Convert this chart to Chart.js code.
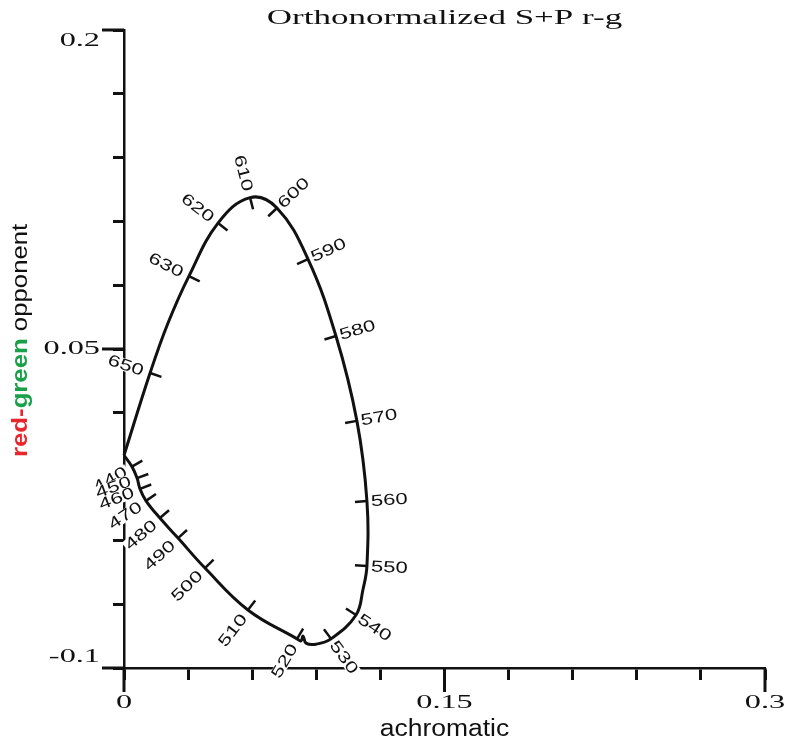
<!DOCTYPE html>
<html><head><meta charset="utf-8">
<script src="https://cdn.jsdelivr.net/npm/chart.js@4.4.0/dist/chart.umd.min.js"></script>
<style>html,body{margin:0;padding:0;background:#fff;}#wrap{width:786px;height:745px;}</style>
</head><body><div id="wrap"><canvas id="c" width="786" height="745"></canvas></div>
<script>
// ---------- data ----------
const chartTitle = 'Orthonormalized S+P r-g';
const xAxisTitle = 'achromatic';
const yTitleParts = [
  {text: 'red-', color: '#e8262d', bold: true},
  {text: 'green', color: '#19a049', bold: true},
  {text: ' opponent', color: '#111111', bold: false}
];
const xRange = [0, 0.3];
const yRange = [-0.1, 0.2];
const minorStep = 0.03;
const xMajorTicks = [0, 0.15, 0.3];
const xTickLabels = ['0', '0.15', '0.3'];
const yMajorTicks = [-0.1, 0.05, 0.2];
const yTickLabels = ['-0.1', '0.05', '0.2'];

// spectral locus (wavelength labels; null = shape point only)
const locusWavelength = [null, 440, 450, 460, 470, 480, 490, 500, 510, 520, null, null, null, null, 530, 540, null, 550, 560, 570, 580, 590, 600, 610, 620, 630, null, 650, null];
const locusX = [0, 0.0037, 0.0061, 0.0075, 0.0103, 0.0168, 0.0253, 0.0379, 0.0580, 0.0810, 0.0828, 0.0838, 0.0852, 0.0899, 0.0969, 0.1086, 0.1118, 0.1137, 0.1137, 0.1090, 0.0992, 0.0861, 0.0716, 0.0590, 0.0440, 0.0304, 0.0206, 0.0122, 0];
const locusY = [0, -0.0053, -0.0107, -0.0158, -0.0214, -0.0295, -0.0389, -0.0530, -0.0727, -0.0863, -0.0873, -0.0850, -0.0883, -0.0888, -0.0863, -0.0751, -0.0633, -0.0520, -0.0215, 0.0162, 0.0561, 0.0923, 0.1163, 0.1212, 0.1092, 0.0843, 0.0622, 0.0387, 0];

// ---------- helpers ----------
const INK = '#111111';
function withStretch(ctx, s, fn) {
  const orig = CanvasRenderingContext2D.prototype.fillText;
  ctx.fillText = function (t, x, y) {
    this.save(); this.translate(x, y); this.scale(s, 1); orig.call(this, t, 0, 0); this.restore();
  };
  try { fn(); } finally { delete ctx.fillText; }
}
function near(a, b) { return Math.abs(a - b) < 1e-9; }

const overlay = {
  id: 'overlay',
  beforeDraw(chart) {
    const xs = chart.scales.x, ys = chart.scales.y;
    [[xs, 1.7], [ys, 1.7]].forEach(([sc, s]) => {
      if (sc._patched) return;
      sc._patched = true;
      sc.drawLabels = function (area) {
        withStretch(this.ctx, s, () => Object.getPrototypeOf(this).drawLabels.call(this, area));
      };
    });
    if (!xs._patchedTitle) {
      xs._patchedTitle = true;
      xs.drawTitle = function () {
        withStretch(this.ctx, 1.15, () => Object.getPrototypeOf(this).drawTitle.call(this));
      };
    }
  },
  afterDatasetsDraw(chart) {
    const ctx = chart.ctx, xs = chart.scales.x, ys = chart.scales.y, ca = chart.chartArea;
    ctx.save();
    ctx.strokeStyle = INK; ctx.lineCap = 'butt';
    // longer major ticks
    ctx.lineWidth = 3;
    xMajorTicks.forEach(v => {
      const px = xs.getPixelForValue(v);
      ctx.beginPath(); ctx.moveTo(px, ca.bottom); ctx.lineTo(px, ca.bottom + 24); ctx.stroke();
    });
    yMajorTicks.forEach(v => {
      const py = ys.getPixelForValue(v);
      ctx.beginPath(); ctx.moveTo(ca.left, py); ctx.lineTo(ca.left - 22, py); ctx.stroke();
    });
    // wavelength ticks on the locus
    const P = locusX.map((x, i) => ({x: xs.getPixelForValue(x), y: ys.getPixelForValue(locusY[i])}));
    const marks = [];
    locusWavelength.forEach((w, i) => {
      if (w == null) return;
      const a = P[Math.max(0, i - 1)], b = P[Math.min(P.length - 1, i + 1)];
      let tx = b.x - a.x, ty = b.y - a.y;
      const L = Math.hypot(tx, ty) || 1; tx /= L; ty /= L;
      marks.push({w, p: P[i], nx: -ty, ny: tx});
    });
    ctx.lineWidth = 2.5;
    marks.forEach(m => {
      ctx.beginPath(); ctx.moveTo(m.p.x, m.p.y); ctx.lineTo(m.p.x - m.nx * 12, m.p.y - m.ny * 12); ctx.stroke();
    });
    // labels with white background
    const LS = 1.38;
    ctx.font = '16px "Liberation Sans", Arial, sans-serif';
    ctx.textAlign = 'center'; ctx.textBaseline = 'middle';
    marks.forEach(m => {
      const txt = String(m.w);
      const w = ctx.measureText(txt).width * LS;
      const d = (m.nx < 0 ? 7 : 4) + w / 2;
      const cx = m.p.x + m.nx * d, cy = m.p.y + m.ny * d;
      const ang = m.nx >= 0 ? Math.atan2(m.ny, m.nx) : Math.atan2(-m.ny, -m.nx);
      ctx.save();
      ctx.translate(cx, cy); ctx.rotate(ang);
      ctx.fillStyle = '#ffffff';
      ctx.fillRect(-w / 2 - 1.5, -6, w + 3, 12.5);
      ctx.scale(LS, 1);
      ctx.fillStyle = INK;
      ctx.fillText(txt, 0, 1);
      ctx.restore();
    });
    ctx.restore();
  },
  afterDraw(chart) {
    const ctx = chart.ctx, ca = chart.chartArea;
    ctx.save();
    // chart title
    ctx.font = '20px "Liberation Serif", "Times New Roman", serif';
    ctx.fillStyle = INK; ctx.textAlign = 'center'; ctx.textBaseline = 'alphabetic';
    ctx.save(); ctx.translate((ca.left + ca.right) / 2, 24); ctx.scale(1.75, 1); ctx.fillText(chartTitle, 0, 0); ctx.restore();
    // y-axis title (multi-coloured)
    ctx.save();
    ctx.translate(27, 457); ctx.rotate(-Math.PI / 2);
    ctx.textAlign = 'left'; ctx.textBaseline = 'alphabetic';
    const S = 1.17;
    let x = 0;
    yTitleParts.forEach(part => {
      ctx.font = (part.bold ? 'bold ' : '') + '22px "Liberation Sans", Arial, sans-serif';
      ctx.fillStyle = part.color;
      ctx.save(); ctx.translate(x, 0); ctx.scale(S, 1); ctx.fillText(part.text, 0, 0); ctx.restore();
      x += ctx.measureText(part.text).width * S;
    });
    ctx.restore();
    ctx.restore();
  }
};

const ctx = document.getElementById('c').getContext('2d');
new Chart(ctx, {
  type: 'scatter',
  data: {
    datasets: [{
      data: locusX.map((x, i) => ({x, y: locusY[i]})),
      showLine: true,
      borderColor: INK,
      borderWidth: 3,
      pointRadius: 0,
      tension: 0.4,
      fill: false,
      clip: false
    }]
  },
  options: {
    responsive: false,
    animation: false,
    devicePixelRatio: 1,
    layout: {padding: {left: 0, right: 21, top: 30, bottom: 0}},
    plugins: {legend: {display: false}, tooltip: {enabled: false}, title: {display: false}},
    scales: {
      x: {
        type: 'linear', position: 'bottom', min: xRange[0], max: xRange[1],
        afterFit(scale) { scale.height = 77; scale.paddingLeft = 0; scale.paddingRight = 0; },
        grid: {drawOnChartArea: false, drawTicks: true, tickLength: 12, tickWidth: 3, tickColor: INK},
        border: {display: true, color: INK, width: 2.5},
        ticks: {
          stepSize: minorStep, autoSkip: false, maxRotation: 0, padding: 12, color: INK,
          font: {family: '"Liberation Serif", "Times New Roman", serif', size: 19},
          callback(v) { const k = xMajorTicks.findIndex(m => near(m, v)); return k >= 0 ? xTickLabels[k] : ''; }
        },
        title: {display: true, text: xAxisTitle, color: INK, padding: {top: 0, bottom: 2},
          font: {family: '"Liberation Sans", Arial, sans-serif', size: 23}}
      },
      y: {
        type: 'linear', min: yRange[0], max: yRange[1],
        afterFit(scale) { scale.width = 124; scale.paddingTop = 0; scale.paddingBottom = 0; },
        grid: {drawOnChartArea: false, drawTicks: true, tickLength: 11, tickWidth: 3, tickColor: INK},
        border: {display: true, color: INK, width: 2.5},
        ticks: {
          stepSize: minorStep, autoSkip: false, padding: 13, color: INK,
          font: {family: '"Liberation Serif", "Times New Roman", serif', size: 19},
          callback(v, i, ticks) {
            const k = yMajorTicks.findIndex(m => near(m, v));
            if (k < 0) return '';
            if (i === 0) return [yTickLabels[k], ''];
            if (i === ticks.length - 1) return ['', yTickLabels[k]];
            return yTickLabels[k];
          }
        },
        title: {display: false}
      }
    }
  },
  plugins: [overlay]
});
</script>
</body></html>
